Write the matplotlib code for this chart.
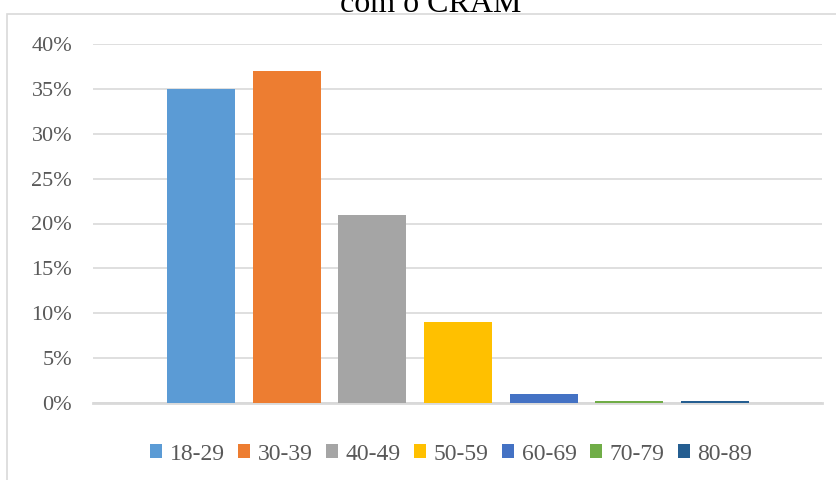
import matplotlib.pyplot as plt
import matplotlib.patches as patches
import matplotlib.ticker as ticker

age_groups = ["18-29", "30-39", "40-49", "50-59", "60-69", "70-79", "80-89"]
shares = [35, 37, 21, 9, 1, 0.2, 0.2]
colors = ["#5B9BD5", "#ED7D31", "#A5A5A5", "#FFC000", "#4472C4", "#70AD47", "#255E91"]
y_ticks = [0, 5, 10, 15, 20, 25, 30, 35, 40]

plt.rcParams['font.family'] = ['Liberation Serif', 'DejaVu Serif']

fig = plt.figure(figsize=(8.36, 4.8), dpi=100)
ax = fig.add_axes([93 / 836, 1 - 403 / 480, (822 - 93) / 836, (403 - 44) / 480])

# outer chart frame, running off the right and bottom edges
frame = patches.Rectangle((7 / 836, -0.1), 1.2, 1 - 14 / 480 + 0.1, transform=fig.transFigure,
                          fill=False, edgecolor="#D9D9D9", linewidth=1.2, clip_on=False)
fig.patches.append(frame)

fig.text(431 / 836, 1 - 12 / 480, "com o CRAM", ha="center", va="baseline",
         fontsize=23, color="#000000")

handles = []
for i, (label, value, color) in enumerate(zip(age_groups, shares, colors)):
    h = ax.bar(i, value, width=0.793, color=color, label=label, zorder=3)
    handles.append(h)

ax.set_xlim(-1.26, 7.25)
ax.set_ylim(0, 40)
ax.set_yticks(y_ticks)
ax.yaxis.set_major_formatter(ticker.FuncFormatter(lambda v, _: f"{v:.0f}%"))
ax.set_xticks([])
ax.tick_params(axis="y", length=0, pad=15, labelsize=16, labelcolor="#595959")
ax.grid(axis="y", color="#D9D9D9", linewidth=1.2, zorder=0)
for side in ["top", "right", "left"]:
    ax.spines[side].set_visible(False)
ax.spines["bottom"].set_color("#D9D9D9")
ax.spines["bottom"].set_linewidth(2)
ax.spines["bottom"].set_zorder(2)

fig.legend(handles=handles, labels=age_groups, loc="center", bbox_to_anchor=(451 / 836, 1 - 454 / 480),
           ncol=7, frameon=False, handlelength=0.51, handleheight=0.51, handletextpad=0.34,
           columnspacing=0.55, fontsize=17, labelcolor="#595959", borderpad=0, borderaxespad=0)

fig.savefig("out.png", dpi=100)
